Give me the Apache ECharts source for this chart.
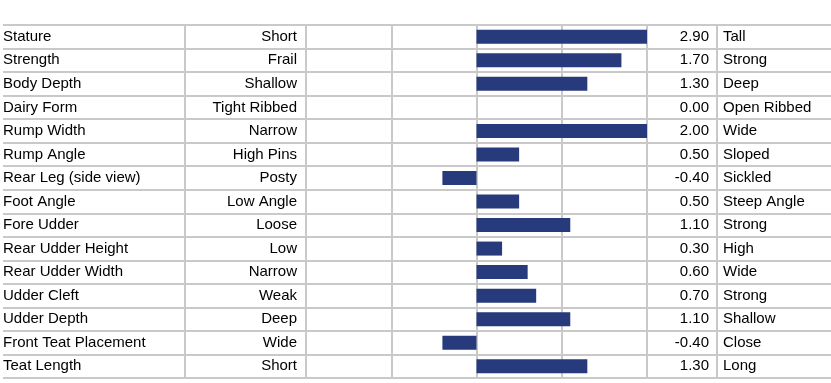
<!DOCTYPE html>
<html lang="en">
<head>
    <meta charset="UTF-8">
    <title>Linear Traits</title>
    <style>
        html, body { margin: 0; padding: 0; background: #fff; }
        #chart { width: 831px; height: 383px; }
    </style>
</head>
<body>
    <div id="chart"></div>

    <script src="https://cdn.jsdelivr.net/npm/echarts@6/dist/echarts.min.js"></script>
    <script>
        // trait rows
        const traits = ['Stature', 'Strength', 'Body Depth', 'Dairy Form', 'Rump Width', 'Rump Angle',
            'Rear Leg (side view)', 'Foot Angle', 'Fore Udder', 'Rear Udder Height', 'Rear Udder Width',
            'Udder Cleft', 'Udder Depth', 'Front Teat Placement', 'Teat Length'];
        const lowLabels = ['Short', 'Frail', 'Shallow', 'Tight Ribbed', 'Narrow', 'High Pins', 'Posty',
            'Low Angle', 'Loose', 'Low', 'Narrow', 'Weak', 'Deep', 'Wide', 'Short'];
        const values = [2.90, 1.70, 1.30, 0.00, 2.00, 0.50, -0.40, 0.50, 1.10, 0.30, 0.60, 0.70, 1.10, -0.40, 1.30];
        const highLabels = ['Tall', 'Strong', 'Deep', 'Open Ribbed', 'Wide', 'Sloped', 'Sickled',
            'Steep Angle', 'Strong', 'High', 'Wide', 'Strong', 'Shallow', 'Close', 'Long'];

        const gridColor = '#c9c9c9';
        const textStyle = { color: '#000', fontSize: 15, fontFamily: 'Liberation Sans, Arial, sans-serif' };

        const chart = echarts.init(document.getElementById('chart'));

        // columns: name | low label | bars | value | high label
        const cols = [
            { left: 0, width: 185 },
            { left: 185, width: 121 },
            { left: 306, width: 341 },
            { left: 647, width: 70 },
            { left: 717, width: 114 }
        ];

        const lineStyle = { color: gridColor, width: 2 };

        function rowAxis(i, extra) {
            return Object.assign({
                type: 'category',
                gridIndex: i,
                data: traits,
                inverse: true,
                axisLine: { show: false },
                axisTick: { show: false },
                axisLabel: { show: false },
                splitLine: { show: true, lineStyle: lineStyle }
            }, extra || {});
        }

        function colAxis(i, extra) {
            return Object.assign({
                type: 'value',
                gridIndex: i,
                min: 0,
                max: 1,
                interval: 1,
                axisLine: { show: false },
                axisTick: { show: false },
                axisLabel: { show: false },
                splitLine: { show: true, lineStyle: lineStyle }
            }, extra || {});
        }

        chart.setOption({
            animation: false,
            grid: cols.map(c => ({ left: c.left, width: c.width, top: 25, bottom: 5, containLabel: false })),
            xAxis: [
                colAxis(0, { splitLine: { show: true, showMinLine: false, lineStyle: lineStyle } }),
                colAxis(1),
                colAxis(2, { min: -2, max: 2, interval: 1 }),
                colAxis(3),
                colAxis(4, { splitLine: { show: true, showMaxLine: false, lineStyle: lineStyle } })
            ],
            yAxis: [
                rowAxis(0, {
                    position: 'left',
                    axisLabel: Object.assign({ show: true, inside: true, margin: 0 }, textStyle)
                }),
                rowAxis(1, {
                    position: 'right',
                    axisLabel: Object.assign({
                        show: true, inside: true, margin: 9,
                        formatter: (v, i) => lowLabels[i]
                    }, textStyle)
                }),
                rowAxis(2),
                rowAxis(3, {
                    position: 'right',
                    axisLabel: Object.assign({
                        show: true, inside: true, margin: 8,
                        formatter: (v, i) => values[i].toFixed(2)
                    }, textStyle)
                }),
                rowAxis(4, {
                    position: 'left',
                    axisLabel: Object.assign({
                        show: true, inside: true, margin: 6,
                        formatter: (v, i) => highLabels[i]
                    }, textStyle)
                })
            ],
            series: [{
                type: 'bar',
                xAxisIndex: 2,
                yAxisIndex: 2,
                data: values,
                barWidth: 14,
                clip: true,
                itemStyle: { color: '#263a7c' }
            }]
        });
    </script>
</body>
</html>
